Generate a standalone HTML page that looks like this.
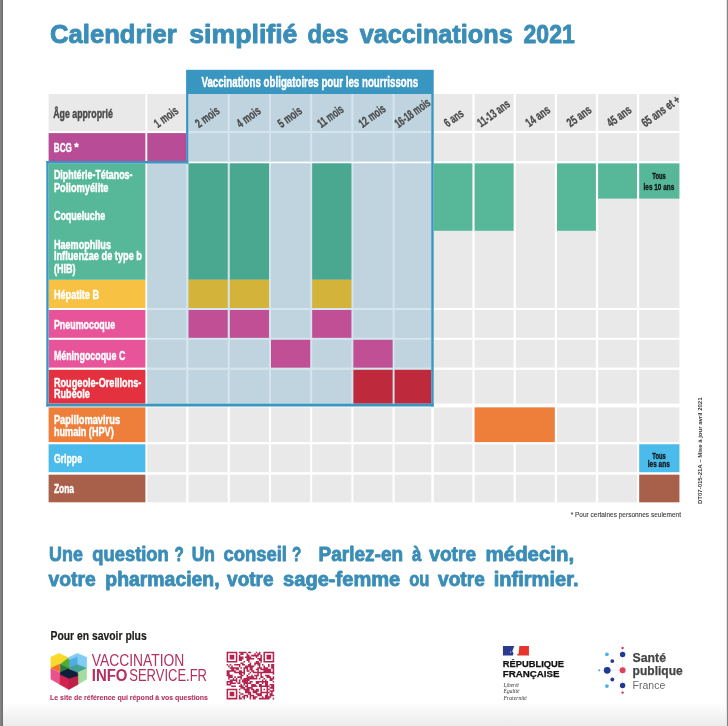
<!DOCTYPE html>
<html lang="fr"><head><meta charset="utf-8"><title>Calendrier simplifié des vaccinations 2021</title>
<style>html,body{margin:0;padding:0;background:#fff}body{width:728px;height:726px;overflow:hidden}svg{display:block}</style></head>
<body>
<svg width="728" height="726" viewBox="0 0 728 726" font-family="'Liberation Sans', sans-serif">
<defs><linearGradient id="bg" x1="0" y1="0" x2="0" y2="1"><stop offset="0" stop-color="#ffffff"/><stop offset="1" stop-color="#ebebeb"/></linearGradient></defs>
<rect x="0.00" y="0.00" width="728.00" height="726.00" fill="#ffffff"/>
<rect x="0.00" y="702.00" width="728.00" height="24.00" fill="url(#bg)"/>
<rect x="0.00" y="0.00" width="1.00" height="726.00" fill="#848484"/>
<rect x="1.00" y="0.00" width="1.00" height="726.00" fill="#7a7a7a"/>
<rect x="2.00" y="0.00" width="1.00" height="726.00" fill="#707070"/>
<rect x="726.00" y="0.00" width="1.00" height="726.00" fill="#e4e4e4"/>
<rect x="727.00" y="0.00" width="1.00" height="726.00" fill="#858585"/>
<text x="50.05" y="42.60" font-size="26.4" font-weight="bold" fill="#3a8db6" text-anchor="start" stroke="#3a8db6" stroke-width="0.9" stroke-linejoin="round" textLength="126.80" lengthAdjust="spacingAndGlyphs" >Calendrier</text>
<text x="189.25" y="42.60" font-size="26.4" font-weight="bold" fill="#3a8db6" text-anchor="start" stroke="#3a8db6" stroke-width="0.9" stroke-linejoin="round" textLength="108.20" lengthAdjust="spacingAndGlyphs" >simplifié</text>
<text x="307.55" y="42.60" font-size="26.4" font-weight="bold" fill="#3a8db6" text-anchor="start" stroke="#3a8db6" stroke-width="0.9" stroke-linejoin="round" textLength="40.90" lengthAdjust="spacingAndGlyphs" >des</text>
<text x="359.65" y="42.60" font-size="26.4" font-weight="bold" fill="#3a8db6" text-anchor="start" stroke="#3a8db6" stroke-width="0.9" stroke-linejoin="round" textLength="153.10" lengthAdjust="spacingAndGlyphs" >vaccinations</text>
<text x="523.55" y="42.60" font-size="26.4" font-weight="bold" fill="#3a8db6" text-anchor="start" stroke="#3a8db6" stroke-width="0.9" stroke-linejoin="round" textLength="51.20" lengthAdjust="spacingAndGlyphs" >2021</text>
<rect x="187.50" y="94.00" width="244.80" height="68.00" fill="#d6e5ed"/>
<rect x="147.30" y="163.40" width="285.00" height="240.70" fill="#d6e5ed"/>
<rect x="147.30" y="94.00" width="38.90" height="37.00" fill="#e9e9e9"/>
<rect x="188.50" y="94.00" width="39.20" height="37.00" fill="#bfd4df"/>
<rect x="229.80" y="94.00" width="39.20" height="37.00" fill="#bfd4df"/>
<rect x="271.00" y="94.00" width="39.20" height="37.00" fill="#bfd4df"/>
<rect x="312.20" y="94.00" width="39.20" height="37.00" fill="#bfd4df"/>
<rect x="353.40" y="94.00" width="39.20" height="37.00" fill="#bfd4df"/>
<rect x="394.60" y="94.00" width="36.70" height="37.00" fill="#bfd4df"/>
<rect x="433.80" y="94.00" width="38.60" height="37.00" fill="#e9e9e9"/>
<rect x="474.60" y="94.00" width="39.00" height="37.00" fill="#e9e9e9"/>
<rect x="515.80" y="94.00" width="39.00" height="37.00" fill="#e9e9e9"/>
<rect x="557.00" y="94.00" width="38.90" height="37.00" fill="#e9e9e9"/>
<rect x="598.10" y="94.00" width="38.90" height="37.00" fill="#e9e9e9"/>
<rect x="639.20" y="94.00" width="40.20" height="37.00" fill="#e9e9e9"/>
<rect x="147.30" y="133.10" width="38.90" height="27.90" fill="#e9e9e9"/>
<rect x="188.50" y="133.10" width="39.20" height="27.90" fill="#bfd4df"/>
<rect x="229.80" y="133.10" width="39.20" height="27.90" fill="#bfd4df"/>
<rect x="271.00" y="133.10" width="39.20" height="27.90" fill="#bfd4df"/>
<rect x="312.20" y="133.10" width="39.20" height="27.90" fill="#bfd4df"/>
<rect x="353.40" y="133.10" width="39.20" height="27.90" fill="#bfd4df"/>
<rect x="394.60" y="133.10" width="36.70" height="27.90" fill="#bfd4df"/>
<rect x="433.80" y="133.10" width="38.60" height="27.90" fill="#e9e9e9"/>
<rect x="474.60" y="133.10" width="39.00" height="27.90" fill="#e9e9e9"/>
<rect x="515.80" y="133.10" width="39.00" height="27.90" fill="#e9e9e9"/>
<rect x="557.00" y="133.10" width="38.90" height="27.90" fill="#e9e9e9"/>
<rect x="598.10" y="133.10" width="38.90" height="27.90" fill="#e9e9e9"/>
<rect x="639.20" y="133.10" width="40.20" height="27.90" fill="#e9e9e9"/>
<rect x="147.30" y="163.40" width="38.90" height="144.60" fill="#bfd4df"/>
<rect x="188.50" y="163.40" width="39.20" height="144.60" fill="#bfd4df"/>
<rect x="229.80" y="163.40" width="39.20" height="144.60" fill="#bfd4df"/>
<rect x="271.00" y="163.40" width="39.20" height="144.60" fill="#bfd4df"/>
<rect x="312.20" y="163.40" width="39.20" height="144.60" fill="#bfd4df"/>
<rect x="353.40" y="163.40" width="39.20" height="144.60" fill="#bfd4df"/>
<rect x="394.60" y="163.40" width="36.70" height="144.60" fill="#bfd4df"/>
<rect x="433.80" y="163.40" width="38.60" height="144.60" fill="#e9e9e9"/>
<rect x="474.60" y="163.40" width="39.00" height="144.60" fill="#e9e9e9"/>
<rect x="515.80" y="163.40" width="39.00" height="144.60" fill="#e9e9e9"/>
<rect x="557.00" y="163.40" width="38.90" height="144.60" fill="#e9e9e9"/>
<rect x="598.10" y="163.40" width="38.90" height="144.60" fill="#e9e9e9"/>
<rect x="639.20" y="163.40" width="40.20" height="144.60" fill="#e9e9e9"/>
<rect x="147.30" y="310.00" width="38.90" height="27.80" fill="#bfd4df"/>
<rect x="188.50" y="310.00" width="39.20" height="27.80" fill="#bfd4df"/>
<rect x="229.80" y="310.00" width="39.20" height="27.80" fill="#bfd4df"/>
<rect x="271.00" y="310.00" width="39.20" height="27.80" fill="#bfd4df"/>
<rect x="312.20" y="310.00" width="39.20" height="27.80" fill="#bfd4df"/>
<rect x="353.40" y="310.00" width="39.20" height="27.80" fill="#bfd4df"/>
<rect x="394.60" y="310.00" width="36.70" height="27.80" fill="#bfd4df"/>
<rect x="433.80" y="310.00" width="38.60" height="27.80" fill="#e9e9e9"/>
<rect x="474.60" y="310.00" width="39.00" height="27.80" fill="#e9e9e9"/>
<rect x="515.80" y="310.00" width="39.00" height="27.80" fill="#e9e9e9"/>
<rect x="557.00" y="310.00" width="38.90" height="27.80" fill="#e9e9e9"/>
<rect x="598.10" y="310.00" width="38.90" height="27.80" fill="#e9e9e9"/>
<rect x="639.20" y="310.00" width="40.20" height="27.80" fill="#e9e9e9"/>
<rect x="147.30" y="339.80" width="38.90" height="27.80" fill="#bfd4df"/>
<rect x="188.50" y="339.80" width="39.20" height="27.80" fill="#bfd4df"/>
<rect x="229.80" y="339.80" width="39.20" height="27.80" fill="#bfd4df"/>
<rect x="271.00" y="339.80" width="39.20" height="27.80" fill="#bfd4df"/>
<rect x="312.20" y="339.80" width="39.20" height="27.80" fill="#bfd4df"/>
<rect x="353.40" y="339.80" width="39.20" height="27.80" fill="#bfd4df"/>
<rect x="394.60" y="339.80" width="36.70" height="27.80" fill="#bfd4df"/>
<rect x="433.80" y="339.80" width="38.60" height="27.80" fill="#e9e9e9"/>
<rect x="474.60" y="339.80" width="39.00" height="27.80" fill="#e9e9e9"/>
<rect x="515.80" y="339.80" width="39.00" height="27.80" fill="#e9e9e9"/>
<rect x="557.00" y="339.80" width="38.90" height="27.80" fill="#e9e9e9"/>
<rect x="598.10" y="339.80" width="38.90" height="27.80" fill="#e9e9e9"/>
<rect x="639.20" y="339.80" width="40.20" height="27.80" fill="#e9e9e9"/>
<rect x="147.30" y="369.80" width="38.90" height="33.80" fill="#bfd4df"/>
<rect x="188.50" y="369.80" width="39.20" height="33.80" fill="#bfd4df"/>
<rect x="229.80" y="369.80" width="39.20" height="33.80" fill="#bfd4df"/>
<rect x="271.00" y="369.80" width="39.20" height="33.80" fill="#bfd4df"/>
<rect x="312.20" y="369.80" width="39.20" height="33.80" fill="#bfd4df"/>
<rect x="353.40" y="369.80" width="39.20" height="33.80" fill="#bfd4df"/>
<rect x="394.60" y="369.80" width="36.70" height="33.80" fill="#bfd4df"/>
<rect x="433.80" y="369.80" width="38.60" height="33.80" fill="#e9e9e9"/>
<rect x="474.60" y="369.80" width="39.00" height="33.80" fill="#e9e9e9"/>
<rect x="515.80" y="369.80" width="39.00" height="33.80" fill="#e9e9e9"/>
<rect x="557.00" y="369.80" width="38.90" height="33.80" fill="#e9e9e9"/>
<rect x="598.10" y="369.80" width="38.90" height="33.80" fill="#e9e9e9"/>
<rect x="639.20" y="369.80" width="40.20" height="33.80" fill="#e9e9e9"/>
<rect x="147.30" y="407.40" width="38.90" height="34.70" fill="#e9e9e9"/>
<rect x="188.50" y="407.40" width="39.20" height="34.70" fill="#e9e9e9"/>
<rect x="229.80" y="407.40" width="39.20" height="34.70" fill="#e9e9e9"/>
<rect x="271.00" y="407.40" width="39.20" height="34.70" fill="#e9e9e9"/>
<rect x="312.20" y="407.40" width="39.20" height="34.70" fill="#e9e9e9"/>
<rect x="353.40" y="407.40" width="39.20" height="34.70" fill="#e9e9e9"/>
<rect x="394.60" y="407.40" width="36.70" height="34.70" fill="#e9e9e9"/>
<rect x="433.80" y="407.40" width="38.60" height="34.70" fill="#e9e9e9"/>
<rect x="474.60" y="407.40" width="39.00" height="34.70" fill="#e9e9e9"/>
<rect x="515.80" y="407.40" width="39.00" height="34.70" fill="#e9e9e9"/>
<rect x="557.00" y="407.40" width="38.90" height="34.70" fill="#e9e9e9"/>
<rect x="598.10" y="407.40" width="38.90" height="34.70" fill="#e9e9e9"/>
<rect x="639.20" y="407.40" width="40.20" height="34.70" fill="#e9e9e9"/>
<rect x="147.30" y="444.30" width="38.90" height="27.90" fill="#e9e9e9"/>
<rect x="188.50" y="444.30" width="39.20" height="27.90" fill="#e9e9e9"/>
<rect x="229.80" y="444.30" width="39.20" height="27.90" fill="#e9e9e9"/>
<rect x="271.00" y="444.30" width="39.20" height="27.90" fill="#e9e9e9"/>
<rect x="312.20" y="444.30" width="39.20" height="27.90" fill="#e9e9e9"/>
<rect x="353.40" y="444.30" width="39.20" height="27.90" fill="#e9e9e9"/>
<rect x="394.60" y="444.30" width="36.70" height="27.90" fill="#e9e9e9"/>
<rect x="433.80" y="444.30" width="38.60" height="27.90" fill="#e9e9e9"/>
<rect x="474.60" y="444.30" width="39.00" height="27.90" fill="#e9e9e9"/>
<rect x="515.80" y="444.30" width="39.00" height="27.90" fill="#e9e9e9"/>
<rect x="557.00" y="444.30" width="38.90" height="27.90" fill="#e9e9e9"/>
<rect x="598.10" y="444.30" width="38.90" height="27.90" fill="#e9e9e9"/>
<rect x="639.20" y="444.30" width="40.20" height="27.90" fill="#e9e9e9"/>
<rect x="147.30" y="474.70" width="38.90" height="27.60" fill="#e9e9e9"/>
<rect x="188.50" y="474.70" width="39.20" height="27.60" fill="#e9e9e9"/>
<rect x="229.80" y="474.70" width="39.20" height="27.60" fill="#e9e9e9"/>
<rect x="271.00" y="474.70" width="39.20" height="27.60" fill="#e9e9e9"/>
<rect x="312.20" y="474.70" width="39.20" height="27.60" fill="#e9e9e9"/>
<rect x="353.40" y="474.70" width="39.20" height="27.60" fill="#e9e9e9"/>
<rect x="394.60" y="474.70" width="36.70" height="27.60" fill="#e9e9e9"/>
<rect x="433.80" y="474.70" width="38.60" height="27.60" fill="#e9e9e9"/>
<rect x="474.60" y="474.70" width="39.00" height="27.60" fill="#e9e9e9"/>
<rect x="515.80" y="474.70" width="39.00" height="27.60" fill="#e9e9e9"/>
<rect x="557.00" y="474.70" width="38.90" height="27.60" fill="#e9e9e9"/>
<rect x="598.10" y="474.70" width="38.90" height="27.60" fill="#e9e9e9"/>
<rect x="639.20" y="474.70" width="40.20" height="27.60" fill="#e9e9e9"/>
<rect x="147.30" y="133.10" width="38.90" height="27.90" fill="#b94c97"/>
<rect x="188.50" y="163.40" width="39.20" height="116.40" fill="#4aa891"/>
<rect x="188.50" y="279.70" width="39.20" height="28.30" fill="#d3b33a"/>
<rect x="188.50" y="310.00" width="39.20" height="27.80" fill="#c14f96"/>
<rect x="229.80" y="163.40" width="39.20" height="116.40" fill="#4aa891"/>
<rect x="229.80" y="279.70" width="39.20" height="28.30" fill="#d3b33a"/>
<rect x="229.80" y="310.00" width="39.20" height="27.80" fill="#c14f96"/>
<rect x="312.20" y="163.40" width="39.20" height="116.40" fill="#4aa891"/>
<rect x="312.20" y="279.70" width="39.20" height="28.30" fill="#d3b33a"/>
<rect x="312.20" y="310.00" width="39.20" height="27.80" fill="#c14f96"/>
<rect x="271.00" y="339.80" width="39.20" height="27.80" fill="#c14f96"/>
<rect x="353.40" y="339.80" width="39.20" height="27.80" fill="#c14f96"/>
<rect x="353.40" y="369.80" width="39.20" height="33.80" fill="#be2a3b"/>
<rect x="394.60" y="369.80" width="36.70" height="33.80" fill="#be2a3b"/>
<rect x="433.80" y="163.40" width="38.60" height="67.40" fill="#56b899"/>
<rect x="474.60" y="163.40" width="39.00" height="67.40" fill="#56b899"/>
<rect x="557.00" y="163.40" width="38.90" height="67.40" fill="#56b899"/>
<rect x="598.10" y="163.40" width="38.90" height="35.20" fill="#56b899"/>
<rect x="639.20" y="163.40" width="40.20" height="35.20" fill="#56b899"/>
<rect x="474.60" y="407.40" width="80.20" height="34.70" fill="#ee7f3b"/>
<rect x="639.20" y="444.30" width="40.20" height="27.90" fill="#4bbbeb"/>
<rect x="639.20" y="474.70" width="40.20" height="27.60" fill="#a8604b"/>
<rect x="48.60" y="94.00" width="96.80" height="37.00" fill="#e9e9e9"/>
<rect x="48.60" y="133.10" width="96.80" height="27.90" fill="#b94c97"/>
<rect x="48.60" y="163.40" width="96.80" height="116.40" fill="#56b899"/>
<rect x="48.60" y="280.00" width="96.80" height="28.00" fill="#f7c243"/>
<rect x="48.60" y="310.00" width="96.80" height="27.80" fill="#e8549a"/>
<rect x="48.60" y="339.80" width="96.80" height="27.80" fill="#e8549a"/>
<rect x="48.60" y="369.80" width="96.80" height="33.80" fill="#e4313f"/>
<rect x="48.60" y="407.40" width="96.80" height="34.70" fill="#ee7f3b"/>
<rect x="48.60" y="444.30" width="96.80" height="27.90" fill="#4bbbeb"/>
<rect x="48.60" y="474.70" width="96.80" height="27.60" fill="#a8604b"/>
<rect x="186.10" y="69.80" width="247.60" height="24.20" fill="#3996c1"/>
<rect x="186.10" y="94.00" width="2.20" height="69.50" fill="#3996c1"/>
<rect x="431.30" y="94.00" width="2.40" height="312.50" fill="#3996c1"/>
<rect x="46.30" y="161.00" width="142.00" height="2.50" fill="#3996c1"/>
<rect x="46.30" y="161.00" width="2.30" height="245.50" fill="#3996c1"/>
<rect x="46.30" y="403.70" width="387.40" height="2.80" fill="#3996c1"/>
<text x="201.45" y="86.70" font-size="15.2" font-weight="bold" fill="#ffffff" text-anchor="start" stroke="#ffffff" stroke-width="0.5" stroke-linejoin="round" textLength="216.70" lengthAdjust="spacingAndGlyphs" >Vaccinations obligatoires pour les nourrissons</text>
<text x="53.20" y="117.70" font-size="12.8" font-weight="bold" fill="#4a4a4a" text-anchor="start" stroke="#4a4a4a" stroke-width="0.45" stroke-linejoin="round" textLength="59.60" lengthAdjust="spacingAndGlyphs" >Âge approprié</text>
<text x="53.80" y="152.40" font-size="13.6" font-weight="bold" fill="#fff" text-anchor="start" stroke="#fff" stroke-width="0.45" stroke-linejoin="round" textLength="18.00" lengthAdjust="spacingAndGlyphs" >BCG</text>
<text x="74.60" y="150.60" font-size="10" font-weight="bold" fill="#fff" text-anchor="start" stroke="#fff" stroke-width="0.5" stroke-linejoin="round" textLength="4.00" lengthAdjust="spacingAndGlyphs" >*</text>
<text x="53.90" y="179.30" font-size="12.8" font-weight="bold" fill="#fff" text-anchor="start" stroke="#fff" stroke-width="0.45" stroke-linejoin="round" textLength="78.60" lengthAdjust="spacingAndGlyphs" >Diphtérie-Tétanos-</text>
<text x="53.90" y="192.00" font-size="12.8" font-weight="bold" fill="#fff" text-anchor="start" stroke="#fff" stroke-width="0.45" stroke-linejoin="round" textLength="54.60" lengthAdjust="spacingAndGlyphs" >Poliomyélite</text>
<text x="53.90" y="220.00" font-size="12.8" font-weight="bold" fill="#fff" text-anchor="start" stroke="#fff" stroke-width="0.45" stroke-linejoin="round" textLength="51.40" lengthAdjust="spacingAndGlyphs" >Coqueluche</text>
<text x="53.90" y="248.70" font-size="12.8" font-weight="bold" fill="#fff" text-anchor="start" stroke="#fff" stroke-width="0.45" stroke-linejoin="round" textLength="57.10" lengthAdjust="spacingAndGlyphs" >Haemophilus</text>
<text x="53.90" y="260.30" font-size="12.8" font-weight="bold" fill="#fff" text-anchor="start" stroke="#fff" stroke-width="0.45" stroke-linejoin="round" textLength="88.10" lengthAdjust="spacingAndGlyphs" >Influenzae de type b</text>
<text x="53.90" y="272.70" font-size="12.8" font-weight="bold" fill="#fff" text-anchor="start" stroke="#fff" stroke-width="0.45" stroke-linejoin="round" textLength="21.60" lengthAdjust="spacingAndGlyphs" >(HIB)</text>
<text x="53.90" y="299.30" font-size="12.8" font-weight="bold" fill="#fff" text-anchor="start" stroke="#fff" stroke-width="0.45" stroke-linejoin="round" textLength="45.20" lengthAdjust="spacingAndGlyphs" >Hépatite B</text>
<text x="53.90" y="329.30" font-size="12.8" font-weight="bold" fill="#fff" text-anchor="start" stroke="#fff" stroke-width="0.45" stroke-linejoin="round" textLength="61.30" lengthAdjust="spacingAndGlyphs" >Pneumocoque</text>
<text x="53.90" y="359.50" font-size="12.8" font-weight="bold" fill="#fff" text-anchor="start" stroke="#fff" stroke-width="0.45" stroke-linejoin="round" textLength="71.40" lengthAdjust="spacingAndGlyphs" >Méningocoque C</text>
<text x="53.90" y="386.80" font-size="12.8" font-weight="bold" fill="#fff" text-anchor="start" stroke="#fff" stroke-width="0.45" stroke-linejoin="round" textLength="87.50" lengthAdjust="spacingAndGlyphs" >Rougeole-Oreillons-</text>
<text x="53.90" y="398.00" font-size="12.8" font-weight="bold" fill="#fff" text-anchor="start" stroke="#fff" stroke-width="0.45" stroke-linejoin="round" textLength="36.00" lengthAdjust="spacingAndGlyphs" >Rubéole</text>
<text x="53.90" y="423.50" font-size="12.8" font-weight="bold" fill="#fff" text-anchor="start" stroke="#fff" stroke-width="0.45" stroke-linejoin="round" textLength="66.20" lengthAdjust="spacingAndGlyphs" >Papillomavirus</text>
<text x="53.90" y="435.90" font-size="12.8" font-weight="bold" fill="#fff" text-anchor="start" stroke="#fff" stroke-width="0.45" stroke-linejoin="round" textLength="59.80" lengthAdjust="spacingAndGlyphs" >humain (HPV)</text>
<text x="53.90" y="463.20" font-size="12.8" font-weight="bold" fill="#fff" text-anchor="start" stroke="#fff" stroke-width="0.45" stroke-linejoin="round" textLength="28.10" lengthAdjust="spacingAndGlyphs" >Grippe</text>
<text x="53.90" y="492.90" font-size="12.8" font-weight="bold" fill="#fff" text-anchor="start" stroke="#fff" stroke-width="0.45" stroke-linejoin="round" textLength="20.10" lengthAdjust="spacingAndGlyphs" >Zona</text>
<text transform="translate(157.80,128.20) rotate(-36)" font-size="12.5" font-weight="bold" fill="#4a4a4a" stroke="#4a4a4a" stroke-width="0.3" textLength="26.5" lengthAdjust="spacingAndGlyphs">1 mois</text>
<text transform="translate(199.00,128.20) rotate(-36)" font-size="12.5" font-weight="bold" fill="#4a4a4a" stroke="#4a4a4a" stroke-width="0.3" textLength="26.5" lengthAdjust="spacingAndGlyphs">2 mois</text>
<text transform="translate(240.30,128.20) rotate(-36)" font-size="12.5" font-weight="bold" fill="#4a4a4a" stroke="#4a4a4a" stroke-width="0.3" textLength="26.5" lengthAdjust="spacingAndGlyphs">4 mois</text>
<text transform="translate(281.50,128.20) rotate(-36)" font-size="12.5" font-weight="bold" fill="#4a4a4a" stroke="#4a4a4a" stroke-width="0.3" textLength="26.5" lengthAdjust="spacingAndGlyphs">5 mois</text>
<text transform="translate(321.20,128.20) rotate(-36)" font-size="12.5" font-weight="bold" fill="#4a4a4a" stroke="#4a4a4a" stroke-width="0.3" textLength="29" lengthAdjust="spacingAndGlyphs">11 mois</text>
<text transform="translate(362.40,128.20) rotate(-36)" font-size="12.5" font-weight="bold" fill="#4a4a4a" stroke="#4a4a4a" stroke-width="0.3" textLength="30" lengthAdjust="spacingAndGlyphs">12 mois</text>
<text transform="translate(398.60,128.20) rotate(-36)" font-size="12.5" font-weight="bold" fill="#4a4a4a" stroke="#4a4a4a" stroke-width="0.3" textLength="40.5" lengthAdjust="spacingAndGlyphs">16-18 mois</text>
<text transform="translate(447.80,127.60) rotate(-36)" font-size="12.5" font-weight="bold" fill="#4a4a4a" stroke="#4a4a4a" stroke-width="0.3" textLength="21" lengthAdjust="spacingAndGlyphs">6 ans</text>
<text transform="translate(481.10,127.60) rotate(-36)" font-size="12.5" font-weight="bold" fill="#4a4a4a" stroke="#4a4a4a" stroke-width="0.3" textLength="37" lengthAdjust="spacingAndGlyphs">11-13 ans</text>
<text transform="translate(529.30,127.60) rotate(-36)" font-size="12.5" font-weight="bold" fill="#4a4a4a" stroke="#4a4a4a" stroke-width="0.3" textLength="27" lengthAdjust="spacingAndGlyphs">14 ans</text>
<text transform="translate(570.50,127.60) rotate(-36)" font-size="12.5" font-weight="bold" fill="#4a4a4a" stroke="#4a4a4a" stroke-width="0.3" textLength="27" lengthAdjust="spacingAndGlyphs">25 ans</text>
<text transform="translate(610.60,127.60) rotate(-36)" font-size="12.5" font-weight="bold" fill="#4a4a4a" stroke="#4a4a4a" stroke-width="0.3" textLength="27" lengthAdjust="spacingAndGlyphs">45 ans</text>
<text transform="translate(645.20,127.60) rotate(-36)" font-size="12.5" font-weight="bold" fill="#4a4a4a" stroke="#4a4a4a" stroke-width="0.3" textLength="44.5" lengthAdjust="spacingAndGlyphs">65 ans et +</text>
<text x="659.00" y="179.30" font-size="9.4" font-weight="bold" fill="#111111" text-anchor="middle" stroke="#111111" stroke-width="0.3" stroke-linejoin="round" textLength="13.50" lengthAdjust="spacingAndGlyphs" >Tous</text>
<text x="658.90" y="189.50" font-size="9.4" font-weight="bold" fill="#111111" text-anchor="middle" stroke="#111111" stroke-width="0.3" stroke-linejoin="round" textLength="30.70" lengthAdjust="spacingAndGlyphs" >les 10 ans</text>
<text x="659.00" y="458.50" font-size="9.4" font-weight="bold" fill="#111111" text-anchor="middle" stroke="#111111" stroke-width="0.3" stroke-linejoin="round" textLength="13.50" lengthAdjust="spacingAndGlyphs" >Tous</text>
<text x="658.80" y="466.50" font-size="9.4" font-weight="bold" fill="#111111" text-anchor="middle" stroke="#111111" stroke-width="0.3" stroke-linejoin="round" textLength="22.00" lengthAdjust="spacingAndGlyphs" >les ans</text>
<text x="570.65" y="517.20" font-size="7" font-weight="normal" fill="#3c3c3c" text-anchor="start" stroke="#3c3c3c" stroke-width="0.1" stroke-linejoin="round" textLength="110.30" lengthAdjust="spacingAndGlyphs" >* Pour certaines personnes seulement</text>
<text transform="translate(702.4,504) rotate(-90)" font-size="5.6" font-weight="bold" fill="#333333" textLength="106.5" lengthAdjust="spacingAndGlyphs">DT07-015-21A – Mise à jour avril 2021</text>
<text x="49.12" y="560.80" font-size="20" font-weight="bold" fill="#3a8db6" text-anchor="start" stroke="#3a8db6" stroke-width="0.85" stroke-linejoin="round" textLength="33.75" lengthAdjust="spacingAndGlyphs" >Une</text>
<text x="92.33" y="560.80" font-size="20" font-weight="bold" fill="#3a8db6" text-anchor="start" stroke="#3a8db6" stroke-width="0.85" stroke-linejoin="round" textLength="76.45" lengthAdjust="spacingAndGlyphs" >question</text>
<text x="174.53" y="560.80" font-size="20" font-weight="bold" fill="#3a8db6" text-anchor="start" stroke="#3a8db6" stroke-width="0.85" stroke-linejoin="round" textLength="9.25" lengthAdjust="spacingAndGlyphs" >?</text>
<text x="191.83" y="560.80" font-size="20" font-weight="bold" fill="#3a8db6" text-anchor="start" stroke="#3a8db6" stroke-width="0.85" stroke-linejoin="round" textLength="23.15" lengthAdjust="spacingAndGlyphs" >Un</text>
<text x="223.43" y="560.80" font-size="20" font-weight="bold" fill="#3a8db6" text-anchor="start" stroke="#3a8db6" stroke-width="0.85" stroke-linejoin="round" textLength="63.45" lengthAdjust="spacingAndGlyphs" >conseil</text>
<text x="292.03" y="560.80" font-size="20" font-weight="bold" fill="#3a8db6" text-anchor="start" stroke="#3a8db6" stroke-width="0.85" stroke-linejoin="round" textLength="9.25" lengthAdjust="spacingAndGlyphs" >?</text>
<text x="318.62" y="560.80" font-size="20" font-weight="bold" fill="#3a8db6" text-anchor="start" stroke="#3a8db6" stroke-width="0.85" stroke-linejoin="round" textLength="84.45" lengthAdjust="spacingAndGlyphs" >Parlez-en</text>
<text x="411.93" y="560.80" font-size="20" font-weight="bold" fill="#3a8db6" text-anchor="start" stroke="#3a8db6" stroke-width="0.85" stroke-linejoin="round" textLength="9.30" lengthAdjust="spacingAndGlyphs" >à</text>
<text x="429.32" y="560.80" font-size="20" font-weight="bold" fill="#3a8db6" text-anchor="start" stroke="#3a8db6" stroke-width="0.85" stroke-linejoin="round" textLength="46.75" lengthAdjust="spacingAndGlyphs" >votre</text>
<text x="485.62" y="560.80" font-size="20" font-weight="bold" fill="#3a8db6" text-anchor="start" stroke="#3a8db6" stroke-width="0.85" stroke-linejoin="round" textLength="88.55" lengthAdjust="spacingAndGlyphs" >médecin,</text>
<text x="48.52" y="586.20" font-size="20" font-weight="bold" fill="#3a8db6" text-anchor="start" stroke="#3a8db6" stroke-width="0.85" stroke-linejoin="round" textLength="47.25" lengthAdjust="spacingAndGlyphs" >votre</text>
<text x="105.33" y="586.20" font-size="20" font-weight="bold" fill="#3a8db6" text-anchor="start" stroke="#3a8db6" stroke-width="0.85" stroke-linejoin="round" textLength="114.25" lengthAdjust="spacingAndGlyphs" >pharmacien,</text>
<text x="227.12" y="586.20" font-size="20" font-weight="bold" fill="#3a8db6" text-anchor="start" stroke="#3a8db6" stroke-width="0.85" stroke-linejoin="round" textLength="46.45" lengthAdjust="spacingAndGlyphs" >votre</text>
<text x="283.12" y="586.20" font-size="20" font-weight="bold" fill="#3a8db6" text-anchor="start" stroke="#3a8db6" stroke-width="0.85" stroke-linejoin="round" textLength="117.15" lengthAdjust="spacingAndGlyphs" >sage-femme</text>
<text x="409.23" y="586.20" font-size="20" font-weight="bold" fill="#3a8db6" text-anchor="start" stroke="#3a8db6" stroke-width="0.85" stroke-linejoin="round" textLength="20.15" lengthAdjust="spacingAndGlyphs" >ou</text>
<text x="438.03" y="586.20" font-size="20" font-weight="bold" fill="#3a8db6" text-anchor="start" stroke="#3a8db6" stroke-width="0.85" stroke-linejoin="round" textLength="46.75" lengthAdjust="spacingAndGlyphs" >votre</text>
<text x="493.73" y="586.20" font-size="20" font-weight="bold" fill="#3a8db6" text-anchor="start" stroke="#3a8db6" stroke-width="0.85" stroke-linejoin="round" textLength="84.75" lengthAdjust="spacingAndGlyphs" >infirmier.</text>
<text x="50.50" y="639.50" font-size="12" font-weight="bold" fill="#1d1d1b" text-anchor="start" stroke="#1d1d1b" stroke-width="0.2" stroke-linejoin="round" textLength="96.20" lengthAdjust="spacingAndGlyphs" >Pour en savoir plus</text>
<polygon points="50.84,656.93 59.08,653.15 67.66,657.27 67.66,659.33 59.77,663.93 50.84,668.05" fill="#f9d92b" fill-opacity="1" stroke="#f9d92b" stroke-width="0.35" stroke-opacity="1" stroke-linejoin="round"/>
<polygon points="68.35,657.62 77.28,653.15 86.76,657.27 86.76,668.26 77.97,672.18 68.70,668.05" fill="#7fcdf2" fill-opacity="1" stroke="#7fcdf2" stroke-width="0.35" stroke-opacity="1" stroke-linejoin="round"/>
<polygon points="69.04,660.36 77.28,656.93 77.28,667.92 77.97,672.18 68.70,668.05" fill="#4ba6dc" fill-opacity="0.85" stroke="#4ba6dc" stroke-width="0.35" stroke-opacity="0.85" stroke-linejoin="round"/>
<polygon points="60.45,663.93 68.01,658.30 69.04,659.68 69.04,668.05 68.35,668.60 60.25,664.48" fill="#4fae32" fill-opacity="1" stroke="#4fae32" stroke-width="0.35" stroke-opacity="1" stroke-linejoin="round"/>
<polygon points="60.11,664.35 68.70,668.33 68.70,668.95 60.11,672.38" fill="#2c7a3c" fill-opacity="1" stroke="#2c7a3c" stroke-width="0.35" stroke-opacity="1" stroke-linejoin="round"/>
<polygon points="68.70,668.05 77.28,664.48 86.76,668.26 77.97,672.38 77.28,672.73" fill="#3f9e8c" fill-opacity="0.9" stroke="#3f9e8c" stroke-width="0.35" stroke-opacity="0.9" stroke-linejoin="round"/>
<polygon points="77.83,672.59 86.76,668.47 86.76,679.25 77.83,684.40" fill="#a3dba0" fill-opacity="1" stroke="#a3dba0" stroke-width="0.35" stroke-opacity="1" stroke-linejoin="round"/>
<polygon points="51.04,668.05 59.77,664.07 59.77,672.18 51.52,668.60" fill="#f26f21" fill-opacity="1" stroke="#f26f21" stroke-width="0.35" stroke-opacity="1" stroke-linejoin="round"/>
<polygon points="50.84,668.47 59.77,672.45 59.77,684.40 50.84,679.25" fill="#e9528d" fill-opacity="1" stroke="#e9528d" stroke-width="0.35" stroke-opacity="1" stroke-linejoin="round"/>
<polygon points="59.77,673.96 68.70,678.22 77.83,675.47 77.83,684.40 68.70,689.55 59.77,684.40" fill="#d3224f" fill-opacity="1" stroke="#d3224f" stroke-width="0.35" stroke-opacity="1" stroke-linejoin="round"/>
<polygon points="68.70,678.22 77.83,674.79 77.83,684.40 68.70,689.55" fill="#b81f45" fill-opacity="0.8" stroke="#b81f45" stroke-width="0.35" stroke-opacity="0.8" stroke-linejoin="round"/>
<polygon points="60.11,672.18 68.35,668.74 77.83,672.86 77.83,675.82 68.70,678.56 60.11,674.44" fill="#0f1f3a" fill-opacity="1" stroke="#0f1f3a" stroke-width="0.35" stroke-opacity="1" stroke-linejoin="round"/>
<text x="91.80" y="665.80" font-size="17.4" font-weight="normal" fill="#b3305f" text-anchor="start" textLength="92.50" lengthAdjust="spacingAndGlyphs" >VACCINATION</text>
<text x="91.80" y="681.30" font-size="17.4" font-weight="bold" fill="#b3305f" text-anchor="start" textLength="35.70" lengthAdjust="spacingAndGlyphs" >INFO</text>
<text x="129.30" y="681.30" font-size="17.4" font-weight="normal" fill="#b3305f" text-anchor="start" textLength="77.70" lengthAdjust="spacingAndGlyphs" >SERVICE.FR</text>
<text x="50.00" y="699.50" font-size="8" font-weight="bold" fill="#b3305f" text-anchor="start" stroke="#b3305f" stroke-width="0.1" stroke-linejoin="round" textLength="158.00" lengthAdjust="spacingAndGlyphs" >Le site de référence qui répond à vos questions</text>
<path d="M226.60 651.80h10.75v1.54h-10.75zM238.88 651.80h7.68v1.54h-7.68zM248.10 651.80h3.07v1.54h-3.07zM255.77 651.80h1.54v1.54h-1.54zM258.85 651.80h1.54v1.54h-1.54zM263.45 651.80h10.75v1.54h-10.75zM226.60 653.34h1.54v1.54h-1.54zM235.81 653.34h1.54v1.54h-1.54zM240.42 653.34h3.07v1.54h-3.07zM246.56 653.34h1.54v1.54h-1.54zM254.24 653.34h1.54v1.54h-1.54zM257.31 653.34h3.07v1.54h-3.07zM263.45 653.34h1.54v1.54h-1.54zM272.66 653.34h1.54v1.54h-1.54zM226.60 654.87h1.54v1.54h-1.54zM229.67 654.87h4.61v1.54h-4.61zM235.81 654.87h1.54v1.54h-1.54zM238.88 654.87h1.54v1.54h-1.54zM246.56 654.87h3.07v1.54h-3.07zM251.17 654.87h7.68v1.54h-7.68zM260.38 654.87h1.54v1.54h-1.54zM263.45 654.87h1.54v1.54h-1.54zM266.52 654.87h4.61v1.54h-4.61zM272.66 654.87h1.54v1.54h-1.54zM226.60 656.41h1.54v1.54h-1.54zM229.67 656.41h4.61v1.54h-4.61zM235.81 656.41h1.54v1.54h-1.54zM238.88 656.41h4.61v1.54h-4.61zM245.03 656.41h6.14v1.54h-6.14zM255.77 656.41h1.54v1.54h-1.54zM260.38 656.41h1.54v1.54h-1.54zM263.45 656.41h1.54v1.54h-1.54zM266.52 656.41h4.61v1.54h-4.61zM272.66 656.41h1.54v1.54h-1.54zM226.60 657.94h1.54v1.54h-1.54zM229.67 657.94h4.61v1.54h-4.61zM235.81 657.94h1.54v1.54h-1.54zM238.88 657.94h4.61v1.54h-4.61zM246.56 657.94h7.68v1.54h-7.68zM257.31 657.94h4.61v1.54h-4.61zM263.45 657.94h1.54v1.54h-1.54zM266.52 657.94h4.61v1.54h-4.61zM272.66 657.94h1.54v1.54h-1.54zM226.60 659.48h1.54v1.54h-1.54zM235.81 659.48h1.54v1.54h-1.54zM238.88 659.48h3.07v1.54h-3.07zM246.56 659.48h3.07v1.54h-3.07zM258.85 659.48h3.07v1.54h-3.07zM263.45 659.48h1.54v1.54h-1.54zM272.66 659.48h1.54v1.54h-1.54zM226.60 661.01h10.75v1.54h-10.75zM243.49 661.01h1.54v1.54h-1.54zM248.10 661.01h1.54v1.54h-1.54zM255.77 661.01h3.07v1.54h-3.07zM260.38 661.01h1.54v1.54h-1.54zM263.45 661.01h10.75v1.54h-10.75zM240.42 662.55h3.07v1.54h-3.07zM249.63 662.55h1.54v1.54h-1.54zM254.24 662.55h6.14v1.54h-6.14zM226.60 664.08h1.54v1.54h-1.54zM229.67 664.08h1.54v1.54h-1.54zM234.28 664.08h6.14v1.54h-6.14zM241.95 664.08h3.07v1.54h-3.07zM248.10 664.08h3.07v1.54h-3.07zM254.24 664.08h1.54v1.54h-1.54zM257.31 664.08h3.07v1.54h-3.07zM261.92 664.08h1.54v1.54h-1.54zM268.06 664.08h1.54v1.54h-1.54zM271.13 664.08h3.07v1.54h-3.07zM228.14 665.62h1.54v1.54h-1.54zM231.21 665.62h1.54v1.54h-1.54zM238.88 665.62h1.54v1.54h-1.54zM245.03 665.62h9.21v1.54h-9.21zM258.85 665.62h1.54v1.54h-1.54zM263.45 665.62h1.54v1.54h-1.54zM268.06 665.62h1.54v1.54h-1.54zM271.13 665.62h3.07v1.54h-3.07zM229.67 667.15h9.21v1.54h-9.21zM240.42 667.15h1.54v1.54h-1.54zM243.49 667.15h4.61v1.54h-4.61zM249.63 667.15h3.07v1.54h-3.07zM257.31 667.15h4.61v1.54h-4.61zM263.45 667.15h4.61v1.54h-4.61zM271.13 667.15h3.07v1.54h-3.07zM231.21 668.69h3.07v1.54h-3.07zM235.81 668.69h3.07v1.54h-3.07zM243.49 668.69h1.54v1.54h-1.54zM246.56 668.69h1.54v1.54h-1.54zM249.63 668.69h3.07v1.54h-3.07zM255.77 668.69h3.07v1.54h-3.07zM260.38 668.69h10.75v1.54h-10.75zM272.66 668.69h1.54v1.54h-1.54zM226.60 670.23h9.21v1.54h-9.21zM238.88 670.23h3.07v1.54h-3.07zM243.49 670.23h1.54v1.54h-1.54zM246.56 670.23h3.07v1.54h-3.07zM251.17 670.23h3.07v1.54h-3.07zM257.31 670.23h1.54v1.54h-1.54zM263.45 670.23h7.68v1.54h-7.68zM272.66 670.23h1.54v1.54h-1.54zM226.60 671.76h3.07v1.54h-3.07zM234.28 671.76h10.75v1.54h-10.75zM249.63 671.76h1.54v1.54h-1.54zM252.70 671.76h21.50v1.54h-21.50zM226.60 673.30h3.07v1.54h-3.07zM238.88 673.30h3.07v1.54h-3.07zM243.49 673.30h1.54v1.54h-1.54zM248.10 673.30h1.54v1.54h-1.54zM257.31 673.30h1.54v1.54h-1.54zM260.38 673.30h1.54v1.54h-1.54zM272.66 673.30h1.54v1.54h-1.54zM226.60 674.83h6.14v1.54h-6.14zM240.42 674.83h3.07v1.54h-3.07zM246.56 674.83h1.54v1.54h-1.54zM251.17 674.83h1.54v1.54h-1.54zM254.24 674.83h4.61v1.54h-4.61zM260.38 674.83h1.54v1.54h-1.54zM264.99 674.83h4.61v1.54h-4.61zM228.14 676.37h4.61v1.54h-4.61zM234.28 676.37h1.54v1.54h-1.54zM237.35 676.37h4.61v1.54h-4.61zM246.56 676.37h7.68v1.54h-7.68zM255.77 676.37h1.54v1.54h-1.54zM260.38 676.37h3.07v1.54h-3.07zM266.52 676.37h4.61v1.54h-4.61zM272.66 676.37h1.54v1.54h-1.54zM228.14 677.90h1.54v1.54h-1.54zM232.74 677.90h1.54v1.54h-1.54zM235.81 677.90h1.54v1.54h-1.54zM240.42 677.90h1.54v1.54h-1.54zM243.49 677.90h13.82v1.54h-13.82zM258.85 677.90h1.54v1.54h-1.54zM263.45 677.90h1.54v1.54h-1.54zM269.59 677.90h4.61v1.54h-4.61zM229.67 679.44h7.68v1.54h-7.68zM238.88 679.44h1.54v1.54h-1.54zM241.95 679.44h7.68v1.54h-7.68zM261.92 679.44h1.54v1.54h-1.54zM264.99 679.44h1.54v1.54h-1.54zM269.59 679.44h3.07v1.54h-3.07zM226.60 680.97h6.14v1.54h-6.14zM235.81 680.97h1.54v1.54h-1.54zM238.88 680.97h1.54v1.54h-1.54zM241.95 680.97h6.14v1.54h-6.14zM249.63 680.97h3.07v1.54h-3.07zM255.77 680.97h12.28v1.54h-12.28zM272.66 680.97h1.54v1.54h-1.54zM226.60 682.51h1.54v1.54h-1.54zM229.67 682.51h6.14v1.54h-6.14zM237.35 682.51h3.07v1.54h-3.07zM243.49 682.51h7.68v1.54h-7.68zM255.77 682.51h3.07v1.54h-3.07zM261.92 682.51h1.54v1.54h-1.54zM264.99 682.51h3.07v1.54h-3.07zM226.60 684.05h4.61v1.54h-4.61zM240.42 684.05h1.54v1.54h-1.54zM243.49 684.05h1.54v1.54h-1.54zM246.56 684.05h1.54v1.54h-1.54zM251.17 684.05h4.61v1.54h-4.61zM258.85 684.05h3.07v1.54h-3.07zM264.99 684.05h3.07v1.54h-3.07zM269.59 684.05h4.61v1.54h-4.61zM231.21 685.58h4.61v1.54h-4.61zM238.88 685.58h4.61v1.54h-4.61zM245.03 685.58h3.07v1.54h-3.07zM251.17 685.58h6.14v1.54h-6.14zM258.85 685.58h10.75v1.54h-10.75zM271.13 685.58h3.07v1.54h-3.07zM240.42 687.12h4.61v1.54h-4.61zM246.56 687.12h6.14v1.54h-6.14zM260.38 687.12h1.54v1.54h-1.54zM266.52 687.12h1.54v1.54h-1.54zM269.59 687.12h4.61v1.54h-4.61zM226.60 688.65h10.75v1.54h-10.75zM238.88 688.65h1.54v1.54h-1.54zM243.49 688.65h6.14v1.54h-6.14zM251.17 688.65h3.07v1.54h-3.07zM255.77 688.65h3.07v1.54h-3.07zM260.38 688.65h1.54v1.54h-1.54zM263.45 688.65h1.54v1.54h-1.54zM266.52 688.65h3.07v1.54h-3.07zM272.66 688.65h1.54v1.54h-1.54zM226.60 690.19h1.54v1.54h-1.54zM235.81 690.19h1.54v1.54h-1.54zM245.03 690.19h4.61v1.54h-4.61zM252.70 690.19h6.14v1.54h-6.14zM260.38 690.19h1.54v1.54h-1.54zM266.52 690.19h1.54v1.54h-1.54zM269.59 690.19h4.61v1.54h-4.61zM226.60 691.72h1.54v1.54h-1.54zM229.67 691.72h4.61v1.54h-4.61zM235.81 691.72h1.54v1.54h-1.54zM238.88 691.72h1.54v1.54h-1.54zM245.03 691.72h6.14v1.54h-6.14zM252.70 691.72h4.61v1.54h-4.61zM260.38 691.72h9.21v1.54h-9.21zM271.13 691.72h1.54v1.54h-1.54zM226.60 693.26h1.54v1.54h-1.54zM229.67 693.26h4.61v1.54h-4.61zM235.81 693.26h1.54v1.54h-1.54zM240.42 693.26h3.07v1.54h-3.07zM248.10 693.26h3.07v1.54h-3.07zM255.77 693.26h6.14v1.54h-6.14zM266.52 693.26h1.54v1.54h-1.54zM269.59 693.26h3.07v1.54h-3.07zM226.60 694.79h1.54v1.54h-1.54zM229.67 694.79h4.61v1.54h-4.61zM235.81 694.79h1.54v1.54h-1.54zM238.88 694.79h1.54v1.54h-1.54zM243.49 694.79h4.61v1.54h-4.61zM249.63 694.79h4.61v1.54h-4.61zM257.31 694.79h4.61v1.54h-4.61zM264.99 694.79h3.07v1.54h-3.07zM269.59 694.79h4.61v1.54h-4.61zM226.60 696.33h1.54v1.54h-1.54zM235.81 696.33h1.54v1.54h-1.54zM238.88 696.33h1.54v1.54h-1.54zM241.95 696.33h3.07v1.54h-3.07zM246.56 696.33h1.54v1.54h-1.54zM249.63 696.33h1.54v1.54h-1.54zM252.70 696.33h4.61v1.54h-4.61zM261.92 696.33h1.54v1.54h-1.54zM264.99 696.33h6.14v1.54h-6.14zM226.60 697.86h10.75v1.54h-10.75zM238.88 697.86h3.07v1.54h-3.07zM243.49 697.86h1.54v1.54h-1.54zM249.63 697.86h1.54v1.54h-1.54zM252.70 697.86h3.07v1.54h-3.07zM258.85 697.86h10.75v1.54h-10.75zM272.66 697.86h1.54v1.54h-1.54z" fill="#b3244f"/>
<polygon points="502.95,646.06 514.34,646.06 513.10,648.93 512.26,651.16 513.45,653.29 512.85,655.47 502.95,655.47" fill="#2b3990"/>
<polygon points="519.39,646.06 528.94,646.06 528.94,655.56 517.55,655.56 517.21,654.28 518.69,653.49 518.99,649.43" fill="#e5352c"/>
<circle cx="510.7" cy="652.1" r="0.7" fill="#dfe3f5"/>
<text x="502.70" y="667.30" font-size="9.3" font-weight="bold" fill="#111111" text-anchor="start" stroke="#111111" stroke-width="0.25" stroke-linejoin="round" textLength="61.30" lengthAdjust="spacingAndGlyphs" >RÉPUBLIQUE</text>
<text x="502.70" y="677.40" font-size="9.3" font-weight="bold" fill="#111111" text-anchor="start" stroke="#111111" stroke-width="0.25" stroke-linejoin="round" textLength="56.90" lengthAdjust="spacingAndGlyphs" >FRANÇAISE</text>
<text x="503.60" y="686.70" font-size="5.2" font-weight="normal" fill="#333" text-anchor="start" textLength="15.40" lengthAdjust="spacingAndGlyphs" font-family="'Liberation Serif', serif" font-style="italic">Liberté</text>
<text x="503.60" y="693.00" font-size="5.2" font-weight="normal" fill="#333" text-anchor="start" textLength="15.80" lengthAdjust="spacingAndGlyphs" font-family="'Liberation Serif', serif" font-style="italic">Égalité</text>
<text x="503.60" y="699.70" font-size="5.2" font-weight="normal" fill="#333" text-anchor="start" textLength="23.30" lengthAdjust="spacingAndGlyphs" font-family="'Liberation Serif', serif" font-style="italic">Fraternité</text>
<g stroke="#f6d5de" stroke-width="0.5"><line x1="622.6" y1="648" x2="622.6" y2="692.6"/><line x1="607.2" y1="670.3" x2="622.6" y2="670.3" stroke="#cdd6ea"/><line x1="612.3" y1="661.1" x2="622.6" y2="670.3" stroke="#dde3f0"/><line x1="612.3" y1="679.5" x2="622.6" y2="670.3" stroke="#dde3f0"/></g>
<circle cx="622.6" cy="648" r="1.2" fill="#d6336c"/>
<circle cx="622.6" cy="654.5" r="2.7" fill="#1f3a93"/>
<circle cx="606.9" cy="654.3" r="1.9" fill="#4db1e6"/>
<circle cx="612.3" cy="661.1" r="1.9" fill="#1f3a93"/>
<circle cx="599.2" cy="670.3" r="1.1" fill="#4db1e6"/>
<circle cx="607.2" cy="670.3" r="3.4" fill="#1f3a93"/>
<circle cx="622.6" cy="670.3" r="3.0" fill="#e0405f"/>
<circle cx="612.3" cy="679.5" r="1.9" fill="#1f3a93"/>
<circle cx="606.9" cy="686.1" r="1.9" fill="#4db1e6"/>
<circle cx="622.6" cy="685.5" r="2.7" fill="#1f3a93"/>
<circle cx="622.6" cy="692.6" r="1.2" fill="#d6336c"/>
<text x="632.60" y="662.10" font-size="12.9" font-weight="bold" fill="#444444" text-anchor="start" stroke="#444444" stroke-width="0.25" stroke-linejoin="round" textLength="33.40" lengthAdjust="spacingAndGlyphs" >Santé</text>
<text x="632.60" y="674.50" font-size="12.9" font-weight="bold" fill="#444444" text-anchor="start" stroke="#444444" stroke-width="0.25" stroke-linejoin="round" textLength="50.10" lengthAdjust="spacingAndGlyphs" >publique</text>
<text x="632.60" y="688.60" font-size="11.6" font-weight="normal" fill="#6a6a6a" text-anchor="start" textLength="32.70" lengthAdjust="spacingAndGlyphs" >France</text>
</svg>
</body></html>
